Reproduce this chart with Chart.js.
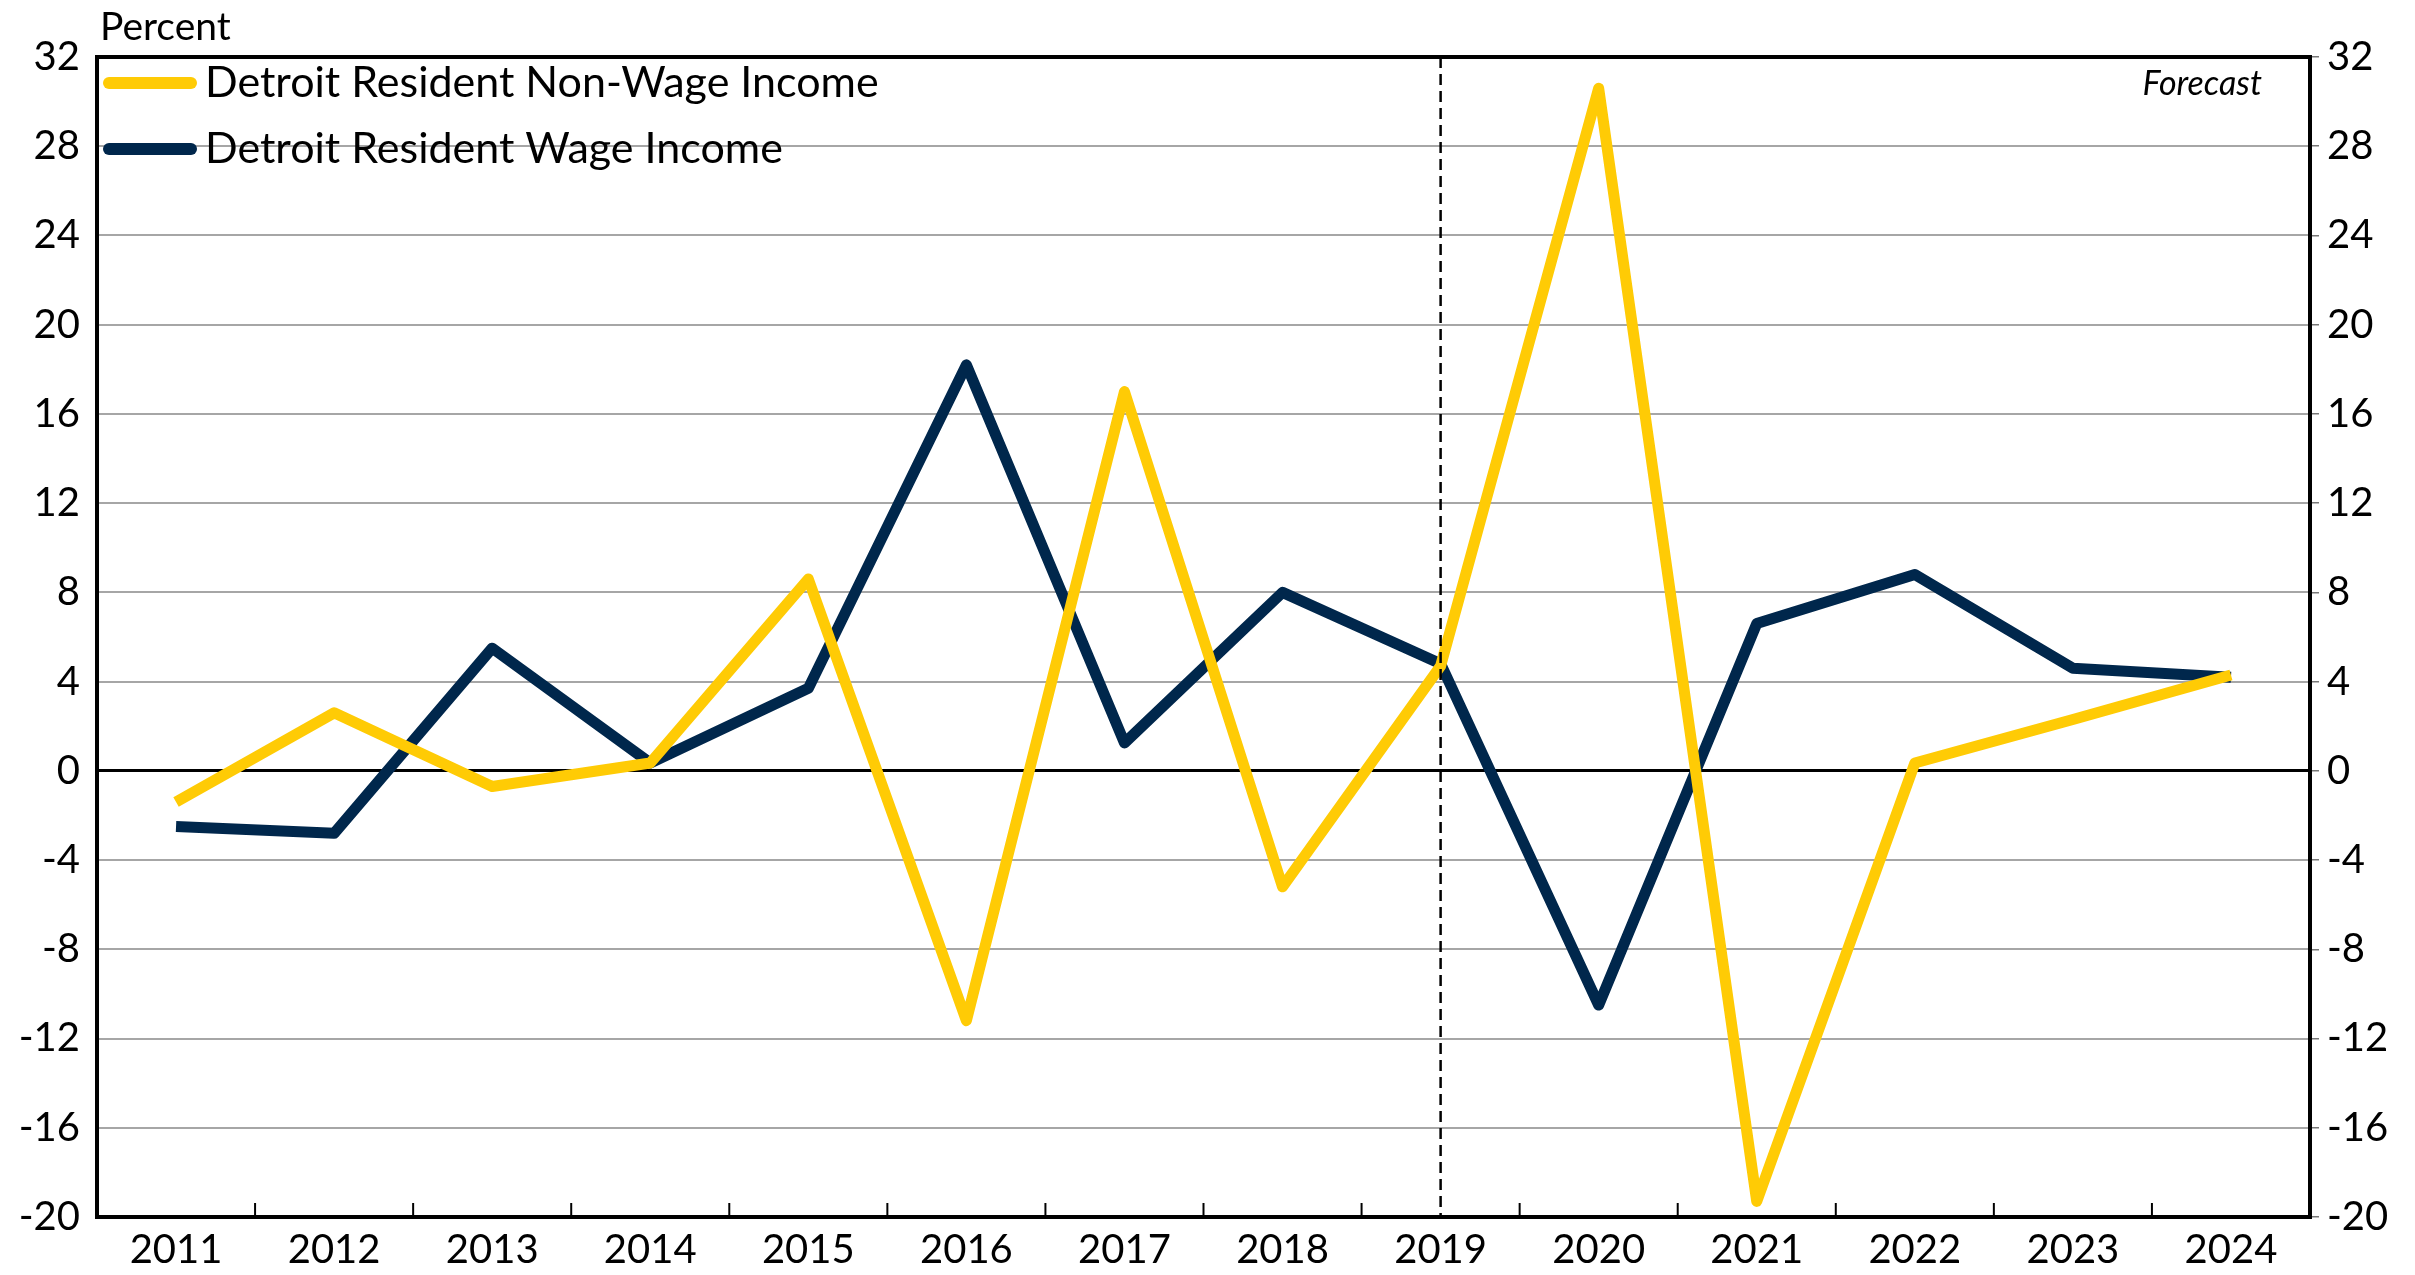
<!DOCTYPE html>
<html>
<head>
<meta charset="utf-8">
<script src="https://cdn.jsdelivr.net/npm/chart.js@4.4.1/dist/chart.umd.min.js"></script>
<style>
  html, body { margin: 0; padding: 0; background: #fff; }
  #wrap { width: 2415px; height: 1275px; }
</style>
</head>
<body>
<div id="wrap"><canvas id="chart" width="2415" height="1275"></canvas></div>
<script>
const years = ['2011', '2012', '2013', '2014', '2015', '2016', '2017', '2018', '2019', '2020', '2021', '2022', '2023', '2024'];
const nonWage = [-1.4, 2.6, -0.7, 0.35, 8.6, -11.2, 17.0, -5.2, 4.7, 30.6, -19.3, 0.35, 2.3, 4.3];
const wage = [-2.5, -2.8, 5.5, 0.35, 3.7, 18.2, 1.25, 8.0, 4.8, -10.5, 6.6, 8.8, 4.6, 4.2];
const yTicks = [32, 28, 24, 20, 16, 12, 8, 4, 0, -4, -8, -12, -16, -20];
const forecastStart = '2019';

const FONT = 'Lato, "Noto Sans", sans-serif';
const YELLOW = '#ffcb05';
const NAVY = '#00274c';

// frame, inward x ticks, dashed forecast line, legend and labels
const decor = {
    id: 'decor',
    afterDatasetsDraw(chart) {
        const { ctx, chartArea: a, scales: { x, y } } = chart;
        ctx.save();

        // inward tick marks between categories
        ctx.strokeStyle = '#000';
        ctx.lineWidth = 2;
        for (let i = 1; i < years.length; i++) {
            const px = (x.getPixelForValue(i - 1) + x.getPixelForValue(i)) / 2;
            ctx.beginPath();
            ctx.moveTo(px, a.bottom);
            ctx.lineTo(px, a.bottom - 14);
            ctx.stroke();
        }

        // forecast divider
        const fx = x.getPixelForValue(years.indexOf(forecastStart));
        ctx.setLineDash([11, 6]);
        ctx.lineWidth = 2.5;
        ctx.beginPath();
        ctx.moveTo(fx, a.top);
        ctx.lineTo(fx, a.bottom);
        ctx.stroke();
        ctx.setLineDash([]);

        // frame
        ctx.lineWidth = 4;
        ctx.strokeRect(a.left, a.top, a.right - a.left, a.bottom - a.top);

        // legend
        const items = [[YELLOW, 'Detroit Resident Non-Wage Income'], [NAVY, 'Detroit Resident Wage Income']];
        ctx.font = '43px ' + FONT;
        ctx.textBaseline = 'middle';
        ctx.textAlign = 'left';
        items.forEach(([c, t], i) => {
            const ly = a.top + 26 + i * 66;
            ctx.strokeStyle = c;
            ctx.lineWidth = 12;
            ctx.lineCap = 'round';
            ctx.beginPath();
            ctx.moveTo(a.left + 12, ly);
            ctx.lineTo(a.left + 94, ly);
            ctx.stroke();
            ctx.fillStyle = '#000';
            ctx.fillText(t, a.left + 108, ly);
        });

        // axis title and forecast label
        ctx.font = '39px ' + FONT;
        ctx.fillText('Percent', a.left + 3, a.top - 30);
        ctx.font = 'italic 34px ' + FONT;
        ctx.textAlign = 'right';
        ctx.fillText('Forecast', a.right - 48, a.top + 27);
        ctx.restore();
    }
};

const tickFont = { family: FONT, size: 40 };

new Chart(document.getElementById('chart'), {
    type: 'line',
    data: {
        labels: years,
        datasets: [
            { label: 'Detroit Resident Non-Wage Income', data: nonWage, borderColor: YELLOW, borderWidth: 11, borderJoinStyle: 'round', pointRadius: 0, tension: 0, yAxisID: 'y' },
            { label: 'Detroit Resident Wage Income', data: wage, borderColor: NAVY, borderWidth: 11, borderJoinStyle: 'round', pointRadius: 0, tension: 0, yAxisID: 'y' }
        ]
    },
    options: {
        responsive: false,
        animation: false,
        layout: { padding: { top: 57, left: 0, right: 0, bottom: 0 } },
        plugins: { legend: { display: false }, tooltip: { enabled: false } },
        scales: {
            x: {
                offset: true,
                grid: { display: false, drawTicks: false },
                border: { display: false },
                ticks: { color: '#000', font: tickFont, padding: 9, maxRotation: 0 },
                afterFit: s => { s.height = 58; }
            },
            y: {
                position: 'left',
                min: -20, max: 32,
                afterBuildTicks: s => { s.ticks = yTicks.map(v => ({ value: v })); },
                grid: {
                    drawTicks: false,
                    color: c => c.tick && c.tick.value === 0 ? '#000' : '#a6a6a6',
                    lineWidth: c => c.tick && c.tick.value === 0 ? 3 : 2
                },
                border: { display: false },
                ticks: { color: '#000', font: tickFont, padding: 17 },
                afterFit: s => { s.width = 97; }
            },
            y2: {
                position: 'right',
                min: -20, max: 32,
                afterBuildTicks: s => { s.ticks = yTicks.map(v => ({ value: v })); },
                grid: { drawOnChartArea: false, drawTicks: true, tickLength: 9, color: '#777', lineWidth: 1.5 },
                border: { display: false },
                ticks: { color: '#000', font: tickFont, padding: 8 },
                afterFit: s => { s.width = 105; }
            }
        }
    },
    plugins: [decor]
});
</script>
</body>
</html>
